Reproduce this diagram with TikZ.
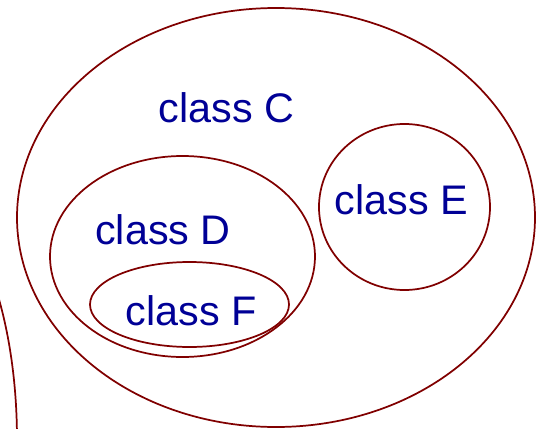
\documentclass[tikz,border=0pt]{standalone}
\usepackage{fontspec}
\setmainfont{Liberation Sans}
\usepackage{xcolor}
\definecolor{setred}{RGB}{128,0,0}
\definecolor{setblue}{RGB}{0,0,150}

\begin{document}
\begin{tikzpicture}[
    x=0.75pt, y=-0.75pt,
    setline/.style={draw=setred, line width=1.3pt},
    label/.style={text=setblue, inner sep=0pt, anchor=base,
      font=\fontsize{31}{36}\selectfont}
  ]
    \useasboundingbox (0,0) rectangle (537,429);
    \begin{scope}
      \clip (0,0) rectangle (537,429);
      \draw[setline] (-87,440) ellipse [x radius=104, y radius=250];
    \end{scope}
    \draw[setline] (276,217.5) ellipse [x radius=259, y radius=209.5];
    \draw[setline] (404.5,207) ellipse [x radius=85.5, y radius=83];
    \draw[setline] (182.5,256.5) ellipse [x radius=132.5, y radius=100.5];
    \draw[setline] (189.5,304.5) ellipse [x radius=99.5, y radius=42.5];

    \node[label] (classC) at (226.5,122) {class C};
    \node[label] (classD) at (163,244) {class D};
    \node[label] (classE) at (401.5,214) {class E};
    \node[label] (classF) at (191,325) {class F};
\end{tikzpicture}
\end{document}
